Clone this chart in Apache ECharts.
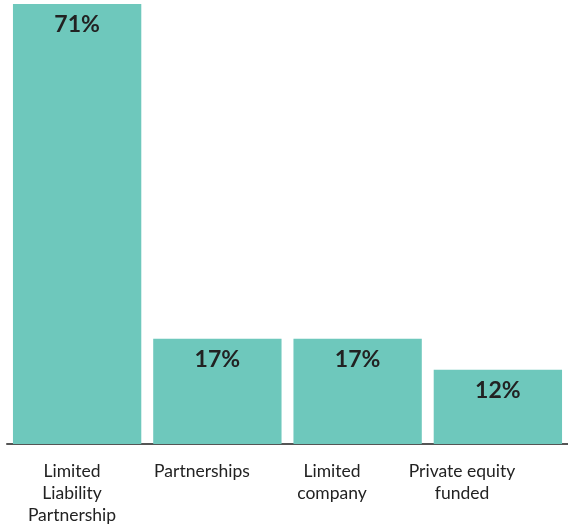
<!DOCTYPE html>
<html>
<head>
<meta charset="utf-8">
<script src="https://cdn.jsdelivr.net/npm/echarts@6/dist/echarts.min.js"></script>
<style>
  html, body { margin: 0; padding: 0; background: #fff; }
  #chart { width: 568px; height: 526px; }
</style>
</head>
<body>
<div id="chart"></div>
<script>
// Share of firms by legal structure (%)
const categories = [
  'Limited\nLiability\nPartnership',
  'Partnerships',
  'Limited\ncompany',
  'Private equity\nfunded'
];
const shares = [71, 17, 17, 12];

const fontFamily = 'Lato, "Noto Sans", sans-serif';

const chart = echarts.init(document.getElementById('chart'));
chart.setOption({
  animation: false,
  grid: [
    // plotting area for the bars
    { left: 7, right: -3, top: 4, bottom: 82 },
    // narrower band that carries the category names
    { left: 7, right: 41, top: 4, bottom: 82 }
  ],
  xAxis: [
    {
      type: 'category',
      gridIndex: 0,
      data: categories,
      axisLine: { lineStyle: { color: '#555', width: 2 } },
      axisTick: { show: false },
      axisLabel: { show: false }
    },
    {
      type: 'category',
      gridIndex: 1,
      data: categories,
      axisLine: { show: false },
      axisTick: { show: false },
      axisLabel: {
        interval: 0,
        margin: 17,
        color: '#222',
        fontSize: 17.5,
        lineHeight: 22,
        fontFamily: fontFamily
      }
    }
  ],
  yAxis: [
    { type: 'value', gridIndex: 0, min: 0, max: 71, show: false },
    { type: 'value', gridIndex: 1, min: 0, max: 71, show: false }
  ],
  series: [{
    type: 'bar',
    xAxisIndex: 0,
    yAxisIndex: 0,
    data: shares,
    barCategoryGap: '8.5%',
    itemStyle: { color: '#6ec8bc' },
    label: {
      show: true,
      position: 'insideTop',
      distance: 9,
      formatter: p => p.value + '%',
      color: '#222',
      fontSize: 23,
      fontWeight: 'bold',
      fontFamily: fontFamily
    }
  }]
});
</script>
</body>
</html>
